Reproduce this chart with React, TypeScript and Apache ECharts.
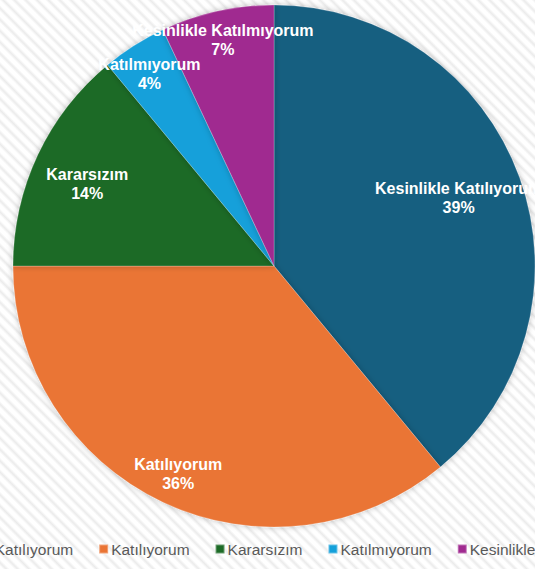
import React, { useEffect, useRef } from "react";
import * as echarts from "echarts";

const categories = [
  "Kesinlikle Katılıyorum",
  "Katılıyorum",
  "Kararsızım",
  "Katılmıyorum",
  "Kesinlikle Katılmıyorum",
];
const values = [39, 36, 14, 4, 7];
const colors = ["#175E80", "#EA7434", "#1D6B27", "#14A0DA", "#A02B90"];
// label nudges (px) from the default "inside" spot
const labelOffsets: [number, number][] = [
  [59, -23],
  [-39, 87],
  [-66, -25],
  [-53, -79],
  [-22, -96],
];

export default function App() {
  const ref = useRef<HTMLDivElement>(null);
  useEffect(() => {
    document.body.style.margin = "0";
    const chart = echarts.init(ref.current!, null, { renderer: "svg" });
    chart.setOption({
      animation: false,
      backgroundColor: "transparent",
      legend: {
        data: categories,
        bottom: 7,
        left: -93,
        width: 1200,
        itemWidth: 9,
        itemHeight: 9,
        itemGap: 25,
        icon: "rect",
        textStyle: {
          fontFamily: "Liberation Sans, Arial, sans-serif",
          fontSize: 15.5,
          color: "#595959",
          padding: [0, 0, 0, -2],
        },
      },
      series: [
        {
          type: "pie",
          center: [274, 266],
          radius: ["0%", 261],
          startAngle: 90,
          clockwise: true,
          avoidLabelOverlap: false,
          minShowLabelAngle: 0,
          labelLine: { show: false },
          labelLayout: { hideOverlap: false, moveOverlap: null },
          itemStyle: {
            borderColor: "rgba(255,255,255,0.35)",
            borderWidth: 0.6,
            shadowBlur: 6,
            shadowColor: "rgba(0,0,0,0.25)",
          },
          emphasis: { disabled: true },
          label: {
            show: true,
            position: "inside",
            formatter: "{b}\n{d}%",
            fontFamily: "Liberation Sans, Arial, sans-serif",
            fontSize: 16,
            fontWeight: "bold",
            color: "#ffffff",
            lineHeight: 19,
          },
          data: categories.map((name, i) => ({
            name,
            value: values[i],
            itemStyle: { color: colors[i] },
            label: { offset: labelOffsets[i] },
          })),
        },
      ],
    });
    return () => chart.dispose();
  }, []);
  return (
    <div
      style={{
        position: "fixed",
        left: 0,
        top: 0,
        width: 535,
        height: 569,
        background:
          "repeating-linear-gradient(45deg, #ffffff 0px, #ffffff 2px, #ebebeb 4.5px, #ffffff 7px, #ffffff 8px)",
      }}
    >
      <div ref={ref} style={{ width: 535, height: 569 }} />
    </div>
  );
}
